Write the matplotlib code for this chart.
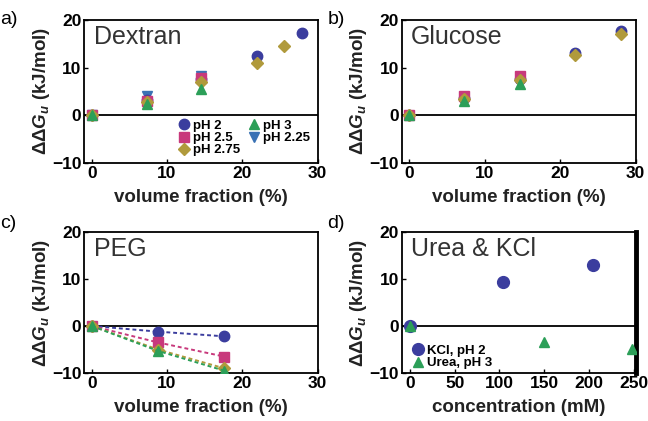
import matplotlib
matplotlib.use('Agg')
import matplotlib.pyplot as plt

plt.rcParams['font.family'] = ['Liberation Sans', 'DejaVu Sans']
plt.rcParams['mathtext.fontset'] = 'custom'
plt.rcParams['mathtext.rm'] = 'Liberation Sans:bold'
plt.rcParams['mathtext.it'] = 'Liberation Sans:bold:italic'
plt.rcParams['mathtext.bf'] = 'Liberation Sans:bold'

# colours / markers per series
c_ph2 = '#3b3d9e'
c_ph25 = '#c8397c'
c_ph275 = '#b09a3c'
c_ph3 = '#2c9f58'
c_ph225 = '#3a72b4'

# a) Dextran
dex_x2 = [0, 7.3, 14.5, 22, 28]
dex_y2 = [0, 3.2, 7.5, 12.5, 17.2]
dex_x25 = [0, 7.3, 14.5]
dex_y25 = [0, 3.0, 7.7]
dex_x275 = [0, 7.3, 14.5, 22, 25.5]
dex_y275 = [0, 2.8, 7.0, 11.0, 14.5]
dex_x3 = [0, 7.3, 14.5]
dex_y3 = [0, 2.3, 5.5]
dex_x225 = [0, 7.3, 14.5]
dex_y225 = [0, 4.0, 8.3]

# b) Glucose
glu_x2 = [0, 7.3, 14.7, 22, 28]
glu_y2 = [0, 3.7, 7.6, 13.0, 17.7]
glu_x25 = [0, 7.3, 14.7]
glu_y25 = [0, 4.0, 8.2]
glu_x275 = [0, 7.3, 14.7, 22, 28]
glu_y275 = [0, 3.5, 7.3, 12.7, 17.0]
glu_x3 = [0, 7.3, 14.7]
glu_y3 = [0, 3.0, 6.6]

# c) PEG
peg_x = [0, 8.8, 17.6]
peg_y2 = [0, -1.2, -2.2]
peg_y25 = [0, -3.5, -6.5]
peg_y275 = [0, -5.0, -9.0]
peg_y3 = [0, -5.3, -9.5]

# d) Urea & KCl
kcl_x = [0, 104, 204]
kcl_y = [0, 9.4, 12.9]
urea_x = [0, 150, 248]
urea_y = [0, -3.3, -4.8]

ylab = r'ΔΔ$G_u$ (kJ/mol)'
ms = 7.5

fig = plt.figure(figsize=(6.48, 4.21), dpi=100)
axa = fig.add_axes([0.130, 0.613, 0.360, 0.340])
axb = fig.add_axes([0.620, 0.613, 0.361, 0.340])
axc = fig.add_axes([0.130, 0.114, 0.360, 0.335])
axd = fig.add_axes([0.620, 0.114, 0.361, 0.335])


def style(ax, title, letter, lx, ly, xlabel, xlim):
    ax.set_xlim(xlim)
    ax.set_ylim(-10, 20)
    ax.set_yticks([-10, 0, 10, 20])
    ax.axhline(0, color='black', lw=1.3, zorder=1)
    ax.tick_params(direction='in', length=3, width=1, labelsize=12.5, pad=2)
    for s in ax.spines.values():
        s.set_linewidth(1.3)
    ax.set_xlabel(xlabel, fontsize=13.5, fontweight='bold', labelpad=6,
                  color='#222222')
    ax.set_ylabel(ylab, fontsize=13.5, fontweight='bold', labelpad=0,
                  color='#222222')
    ax.text(0.04, 0.965, title, transform=ax.transAxes, fontsize=18,
            va='top', ha='left', color='#333333')
    fig.text(lx, ly, letter, fontsize=14, va='top', ha='left')


def boldticks(ax):
    for lb in ax.get_xticklabels() + ax.get_yticklabels():
        lb.set_fontweight('bold')


# a
axa.plot(dex_x2, dex_y2, 'o', c=c_ph2, ms=ms, label='pH 2', zorder=3)
axa.plot(dex_x25, dex_y25, 's', c=c_ph25, ms=ms-0.5, label='pH 2.5', zorder=3)
axa.plot(dex_x275, dex_y275, 'D', c=c_ph275, ms=ms-1.5, label='pH 2.75', zorder=3)
axa.plot(dex_x3, dex_y3, '^', c=c_ph3, ms=ms, label='pH 3', zorder=3)
axa.plot(dex_x225, dex_y225, 'v', c=c_ph225, ms=ms, label='pH 2.25', zorder=2)
style(axa, 'Dextran', 'a)', 0.0, 0.975, 'volume fraction (%)', (-1, 30))
boldticks(axa)
axa.legend(ncol=2, loc='lower right', bbox_to_anchor=(1.0, -0.01), frameon=False,
           prop={'weight': 'bold', 'size': 9.5}, handletextpad=0.0,
           handlelength=1.3, columnspacing=0.4, labelspacing=0.0,
           borderpad=0.1, numpoints=1)

# b
axb.plot(glu_x2, glu_y2, 'o', c=c_ph2, ms=ms, zorder=3)
axb.plot(glu_x25, glu_y25, 's', c=c_ph25, ms=ms-0.5, zorder=3)
axb.plot(glu_x275, glu_y275, 'D', c=c_ph275, ms=ms-1.5, zorder=3)
axb.plot(glu_x3, glu_y3, '^', c=c_ph3, ms=ms, zorder=3)
style(axb, 'Glucose', 'b)', 0.505, 0.975, 'volume fraction (%)', (-1, 30))
boldticks(axb)

# c
dash = (0, (2.0, 1.5))
axc.plot(peg_x, peg_y2, 'o', c=c_ph2, ms=ms, ls=dash, lw=1.4, zorder=3)
axc.plot(peg_x, peg_y25, 's', c=c_ph25, ms=ms-0.5, ls=dash, lw=1.4, zorder=3)
axc.plot(peg_x, peg_y275, 'D', c=c_ph275, ms=ms-1.5, ls=dash, lw=1.4, zorder=3)
axc.plot(peg_x, peg_y3, '^', c=c_ph3, ms=ms, ls=dash, lw=1.4, zorder=3)
style(axc, 'PEG', 'c)', 0.0, 0.49, 'volume fraction (%)', (-1, 30))
boldticks(axc)

# d
axd.plot(kcl_x, kcl_y, 'o', c=c_ph2, ms=ms+1, label='KCl, pH 2', zorder=3)
axd.plot(urea_x, urea_y, '^', c=c_ph3, ms=ms, label='Urea, pH 3', zorder=3)
style(axd, 'Urea & KCl', 'd)', 0.505, 0.49, 'concentration (mM)', (-9, 252))
axd.set_xticks([0, 50, 100, 150, 200, 250])
boldticks(axd)
axd.spines['right'].set_linewidth(3.5)
axd.legend(loc='lower left', bbox_to_anchor=(0.0, -0.03), frameon=False,
           prop={'weight': 'bold', 'size': 9.5}, handletextpad=0.0,
           handlelength=1.3, labelspacing=0.0, borderpad=0.1, numpoints=1)

fig.savefig('out.png', dpi=100)
